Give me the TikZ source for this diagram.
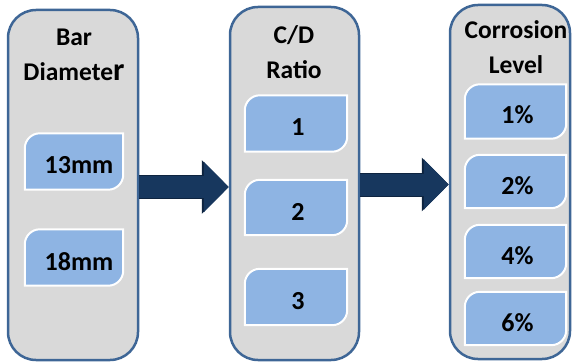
\documentclass[tikz,border=0pt]{standalone}
\usepackage{fontspec}
\setmainfont{Carlito}
\usetikzlibrary{positioning,arrows.meta}
\definecolor{panelgray}{HTML}{D9D9D9}
\definecolor{panelblue}{HTML}{3E6696}
\definecolor{leafblue}{HTML}{8EB4E3}
\definecolor{arrowblue}{HTML}{17375E}
\definecolor{arrowedge}{HTML}{0E2440}
\pgfdeclarelayer{back}
\pgfdeclarelayer{mid}
\pgfsetlayers{back,mid,main}
\tikzstyle{panel} = [draw=panelblue,fill=panelgray,line width=2.5pt,rounded corners=28pt,inner sep=0]
\tikzstyle{title} = [align=center,anchor=north,inner sep=0,font=\fontsize{25.5}{35}\selectfont\bfseries]
\tikzstyle{leafbox} = [inner sep=0,font=\fontsize{26}{30}\selectfont\bfseries]
\tikzstyle{flowarrow} = [arrowblue,line width=22pt,-{Triangle[width=49pt,length=25pt]},
                         preaction={draw=arrowedge,line width=24pt,-{Triangle[width=52pt,length=27pt]}}]
\newcommand\leafr{15pt}
\newcommand\low[1]{\raisebox{-12.5pt}[0pt][0pt]{#1}}
\newcommand\leaf[1]{%
  \fill[leafblue,draw=white,line width=2pt]
    (#1.south west) -- ([yshift=-\leafr]#1.north west)
    arc[start angle=180,end angle=90,radius=\leafr] -- (#1.north east)
    -- ([yshift=\leafr]#1.south east)
    arc[start angle=0,end angle=-90,radius=\leafr] -- cycle;}

\begin{document}
\begin{tikzpicture}[x=1pt,y=1pt]
   \useasboundingbox (0,0) rectangle (572,362);

   % columns
   \begin{pgfonlayer}{back}
   \node[panel,minimum width=130pt,minimum height=350pt] (barpanel)  at (73,177)    {};
   \node[panel,minimum width=129pt,minimum height=353pt] (cdpanel)   at (294.5,178.5) {};
   \node[panel,minimum width=120pt,minimum height=354pt] (corrpanel) at (510,180)   {};
   \end{pgfonlayer}

   \node[title] (bartitle)  at (74,333)  {Bar\\Diamete{\fontsize{32}{32}\selectfont r}};
   \node[title] (cdtitle)   at (294,337) {C/D\\Ratio};
   \node[title] (corrtitle) at (516,341.5) {Corrosion\\Level};

   % values
   \node[leafbox,minimum width=98pt,minimum height=56pt]  (bar13) at (74,200.5)  {\low{\hspace{10pt}13mm}};
   \node[leafbox,minimum width=98pt,minimum height=56pt]  (bar18) at (74,104.5)  {\low{\hspace{10pt}18mm}};
   \node[leafbox,minimum width=102pt,minimum height=56pt] (cd1)   at (296,238.5) {\low{\hspace{4pt}1}};
   \node[leafbox,minimum width=102pt,minimum height=55pt] (cd2)   at (296,154.5) {\low{\hspace{4pt}2}};
   \node[leafbox,minimum width=102pt,minimum height=56pt] (cd3)   at (296,65)    {\low{\hspace{4pt}3}};
   \node[leafbox,minimum width=101pt,minimum height=54pt] (corr1) at (515.5,250.5) {\low{\hspace{4pt}1\%}};
   \node[leafbox,minimum width=101pt,minimum height=53pt] (corr2) at (515.5,180.5) {\low{\hspace{4pt}2\%}};
   \node[leafbox,minimum width=101pt,minimum height=53pt] (corr4) at (515.5,110.5) {\low{\hspace{4pt}4\%}};
   \node[leafbox,minimum width=101pt,minimum height=53pt] (corr6) at (515.5,43.5)  {\low{\hspace{4pt}6\%}};

   \begin{pgfonlayer}{mid}
   \foreach \b in {bar13,bar18,cd1,cd2,cd3,corr1,corr2,corr4,corr6}
     \leaf{\b};
   \end{pgfonlayer}

   % flow
   \draw[flowarrow] ([yshift=-2pt]barpanel.east) -- ([yshift=-3.5pt]cdpanel.west);
   \draw[flowarrow] ([yshift=-1pt]cdpanel.east)  -- ([yshift=-2.5pt]corrpanel.west);

\end{tikzpicture}
\end{document}
